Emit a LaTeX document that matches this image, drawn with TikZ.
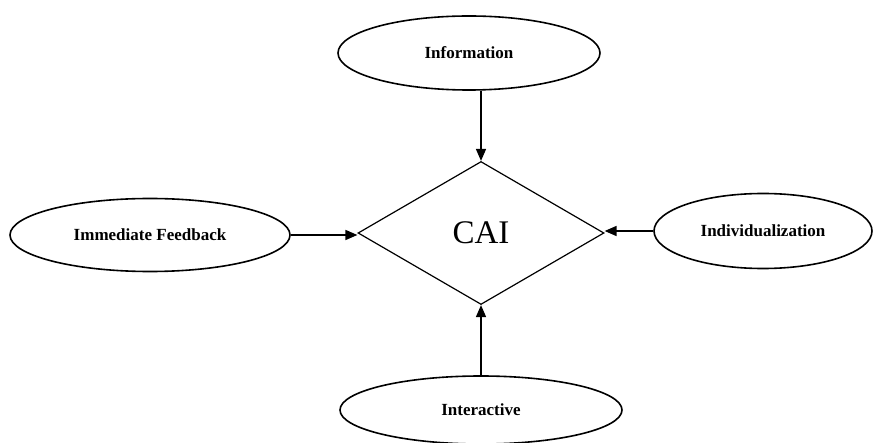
\documentclass[tikz,border=0pt]{standalone}
\usepackage{fontspec}
\setmainfont{Liberation Serif}
\usetikzlibrary{positioning,arrows.meta,shapes.geometric}

\tikzset{
  topic/.style={ellipse, draw, line width=1.6pt, inner sep=0pt,
    font=\fontsize{17}{20}\selectfont\bfseries},
  hub/.style={diamond, draw, line width=1.2pt, inner sep=0pt,
    minimum width=246pt, minimum height=143pt,
    font=\fontsize{33}{38}\selectfont},
  feed/.style={line width=1.5pt, -{Triangle[length=12pt,width=10pt]}}
}

\begin{document}
\begin{tikzpicture}[x=1pt, y=-1pt]
\useasboundingbox (0,0) rectangle (888,443);
\node[hub] (cai) at (481,233) {CAI};
\node[topic, minimum width=262pt, minimum height=74pt] (info) at (469,53) {Information};
\node[topic, minimum width=280pt, minimum height=73pt] (fb) at (150,235) {Immediate Feedback};
\node[topic, minimum width=218pt, minimum height=75pt] (indiv) at (763,231) {Individualization};
\node[topic, minimum width=282pt, minimum height=68pt] (inter) at (481,410) {Interactive};
\draw[feed] (cai.north |- info.south) -- (cai.north);
\draw[feed] (fb.east) -- (fb.east -| cai.west);
\draw[feed] (indiv.west) -- (indiv.west -| cai.east);
\draw[feed] (inter.north) -- (cai.south);
\end{tikzpicture}
\end{document}
